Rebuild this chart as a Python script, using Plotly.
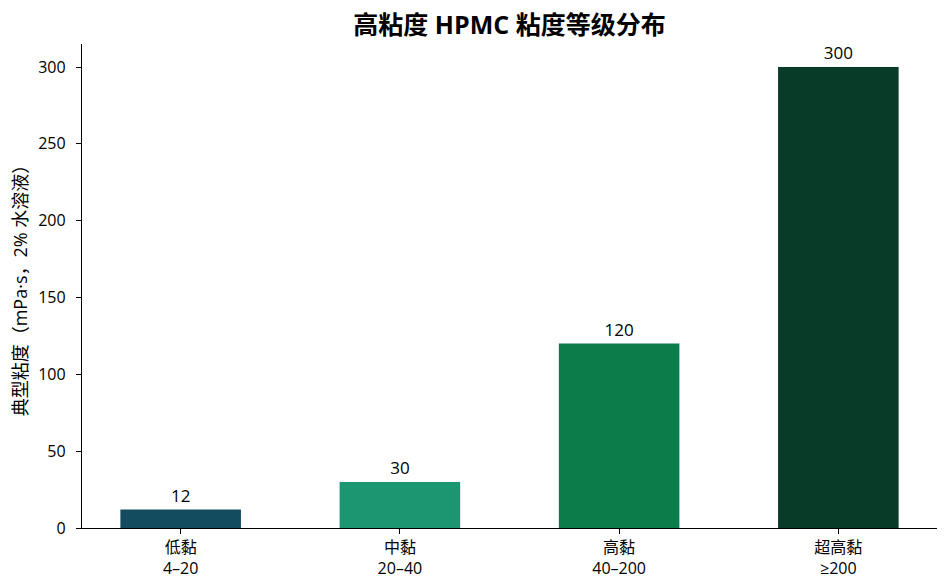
import plotly.graph_objects as go

categories = ["低黏<br>4–20", "中黏<br>20–40", "高黏<br>40–200", "超高黏<br>≥200"]
viscosity = [12, 30, 120, 300]
bar_colors = ["#134b5f", "#1b9670", "#0d7c4b", "#083b28"]
y_ticks = [0, 50, 100, 150, 200, 250, 300]

font_family = "Open Sans, Noto Sans CJK SC, sans-serif"

fig = go.Figure()
fig.add_trace(go.Bar(
    x=categories,
    y=viscosity,
    marker=dict(color=bar_colors, line=dict(width=0)),
    width=0.55,
    text=[str(v) for v in viscosity],
    textposition="outside",
    textfont=dict(size=17, color="black"),
    cliponaxis=False,
))

# the page body has an 8px margin, so the figure is made 8px smaller
fig.update_layout(
    width=941,
    height=580,
    margin=dict(l=74, r=12, t=36, b=60, autoexpand=False),
    plot_bgcolor="white",
    paper_bgcolor="white",
    font=dict(family=font_family, color="black", size=16),
    title=dict(
        text="<b>高粘度 HPMC 粘度等级分布</b>",
        xref="paper", x=0.5, xanchor="center",
        y=0.971, yanchor="middle",
        font=dict(size=25, color="black"),
    ),
    showlegend=False,
)
fig.update_xaxes(
    range=[-0.45, 3.45],
    automargin=False,
    showline=True, linecolor="black", linewidth=1.3,
    ticks="outside", ticklen=5, tickcolor="black",
    tickfont=dict(size=16),
    showgrid=False,
)
fig.update_yaxes(
    range=[0, 315],
    tickvals=y_ticks,
    automargin=False,
    showline=True, linecolor="black", linewidth=1.3,
    ticks="outside", ticklen=5, tickcolor="black",
    tickfont=dict(size=16), ticklabelstandoff=7,
    showgrid=False, zeroline=False,
    title=dict(text="典型粘度（mPa·s，2% 水溶液）", font=dict(size=18), standoff=12),
)

fig.write_html("out.html")
